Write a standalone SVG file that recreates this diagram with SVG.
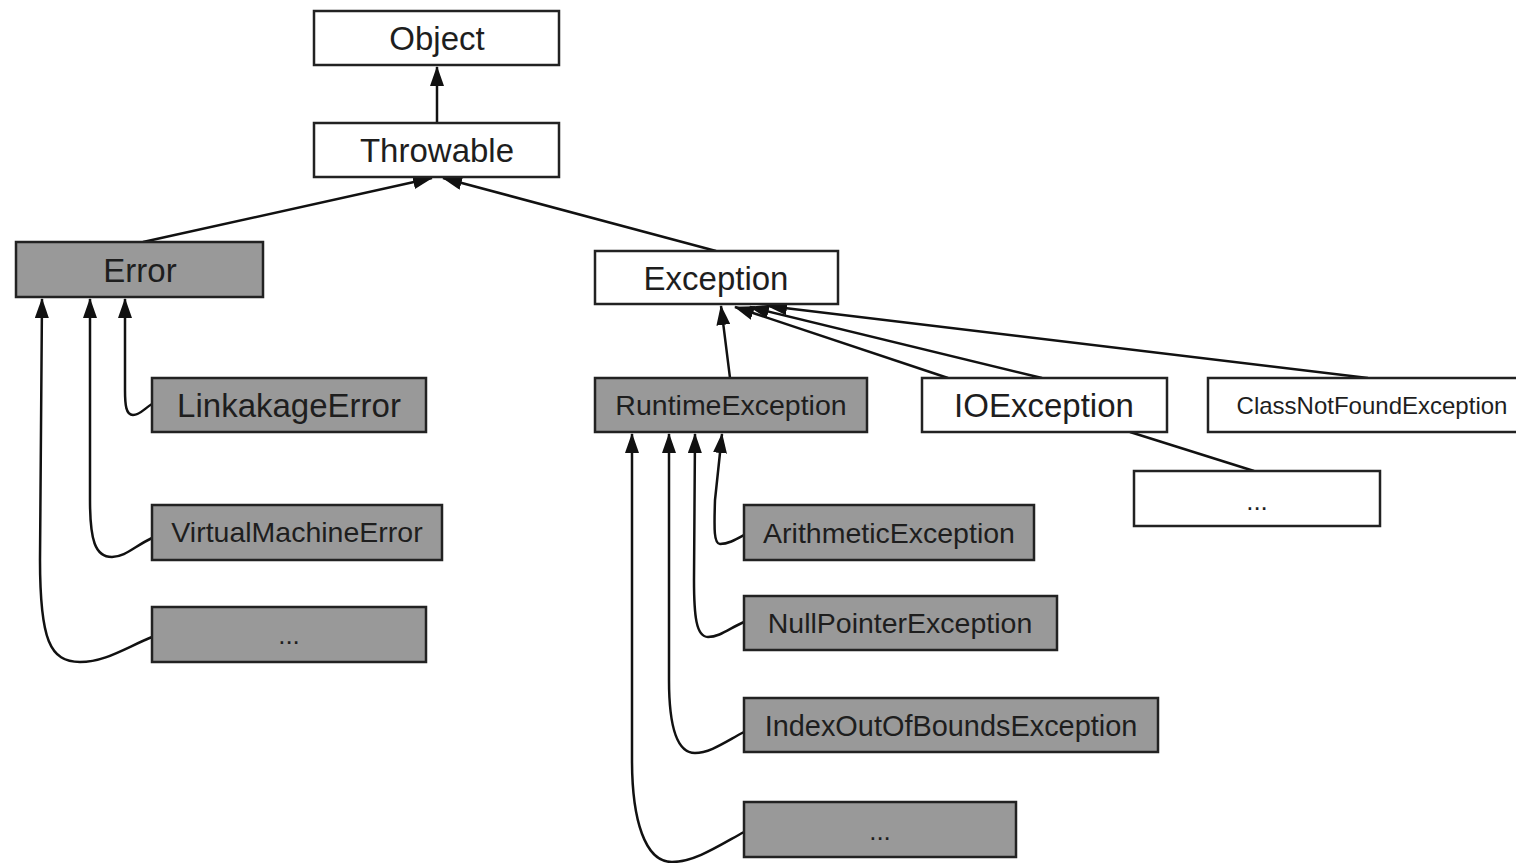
<svg xmlns="http://www.w3.org/2000/svg" width="1516" height="863" viewBox="0 0 1516 863">
<style>
.b{stroke:#222;stroke-width:2.5;}
.w{fill:#fff;}
.g{fill:#999;}
text{font-family:"Liberation Sans",Arial,sans-serif;fill:#1e1e1e;text-anchor:middle;}
.c{fill:none;stroke:#111;stroke-width:2.5;}
</style>
<defs>
<marker id="ah" viewBox="0 0 20 14" refX="19" refY="7" markerWidth="20" markerHeight="14" markerUnits="userSpaceOnUse" orient="auto">
<path d="M0,0 L20,7 L0,14 z" fill="#111"/>
</marker>
</defs>
<rect width="1516" height="863" fill="#fff"/>
<g id="connectors">
<path class="c" d="M437,123 L437,67" marker-end="url(#ah)"/>
<path class="c" d="M143,242 L432,178" marker-end="url(#ah)"/>
<path class="c" d="M716,251 L443,178" marker-end="url(#ah)"/>
<path class="c" d="M730,378 L721,306" marker-end="url(#ah)"/>
<path class="c" d="M948,378 L735,307" marker-end="url(#ah)"/>
<path class="c" d="M1042,378 L750,307" marker-end="url(#ah)"/>
<path class="c" d="M1368,378 L768,306" marker-end="url(#ah)"/>
<path class="c" d="M1130,432 L1254,471"/>
<path class="c" d="M152,404 C145,408 140,415 133,415 C126,415 125,405 125,390 L125,299" marker-end="url(#ah)"/>
<path class="c" d="M152,538 C135,546 125,557 112,557 C95,557 90,540 90,500 L90,299" marker-end="url(#ah)"/>
<path class="c" d="M152,637 C125,648 105,662 80,662 C50,662 40,640 40,560 L42,299" marker-end="url(#ah)"/>
<path class="c" d="M744,535 C735,540 728,544 720,544 C714,544 714,530 715,500 L722,434" marker-end="url(#ah)"/>
<path class="c" d="M744,622 C730,628 720,637 708,637 C696,637 694,615 694,580 L695,434" marker-end="url(#ah)"/>
<path class="c" d="M744,732 C725,742 710,753 695,753 C675,753 669,720 669,680 L669,434" marker-end="url(#ah)"/>
<path class="c" d="M744,832 C720,845 695,862 672,862 C645,862 632,820 632,760 L632,434" marker-end="url(#ah)"/>
</g>
<g id="object"><rect class="b w" x="314" y="11" width="245" height="54"/><text x="437" y="50" font-size="33">Object</text></g>
<g id="throwable"><rect class="b w" x="314" y="123" width="245" height="54"/><text x="437" y="162" font-size="33">Throwable</text></g>
<g id="error"><rect class="b g" x="16" y="242" width="247" height="55"/><text x="140" y="282" font-size="33">Error</text></g>
<g id="exception"><rect class="b w" x="595" y="251" width="243" height="53"/><text x="716" y="290" font-size="33">Exception</text></g>
<g id="linkakageerror"><rect class="b g" x="152" y="378" width="274" height="54"/><text x="289" y="417" font-size="33">LinkakageError</text></g>
<g id="virtualmachineerror"><rect class="b g" x="152" y="505" width="290" height="55"/><text x="297" y="542" font-size="28.5">VirtualMachineError</text></g>
<g id="error-more"><rect class="b g" x="152" y="607" width="274" height="55"/><text x="289" y="644" font-size="26">...</text></g>
<g id="runtimeexception"><rect class="b g" x="595" y="378" width="272" height="54"/><text x="731" y="415" font-size="28.5">RuntimeException</text></g>
<g id="ioexception"><rect class="b w" x="922" y="378" width="245" height="54"/><text x="1044" y="417" font-size="33">IOException</text></g>
<g id="classnotfoundexception"><rect class="b w" x="1208" y="378" width="312" height="54"/><text x="1372" y="414" font-size="24">ClassNotFoundException</text></g>
<g id="io-more"><rect class="b w" x="1134" y="471" width="246" height="55"/><text x="1257" y="510" font-size="26">...</text></g>
<g id="arithmeticexception"><rect class="b g" x="744" y="505" width="290" height="55"/><text x="889" y="543" font-size="28.5">ArithmeticException</text></g>
<g id="nullpointerexception"><rect class="b g" x="744" y="596" width="313" height="54"/><text x="900" y="633" font-size="28.5">NullPointerException</text></g>
<g id="indexoutofboundsexception"><rect class="b g" x="744" y="698" width="414" height="54"/><text x="951" y="736" font-size="28.9">IndexOutOfBoundsException</text></g>
<g id="runtime-more"><rect class="b g" x="744" y="802" width="272" height="55"/><text x="880" y="840" font-size="26">...</text></g>
</svg>
